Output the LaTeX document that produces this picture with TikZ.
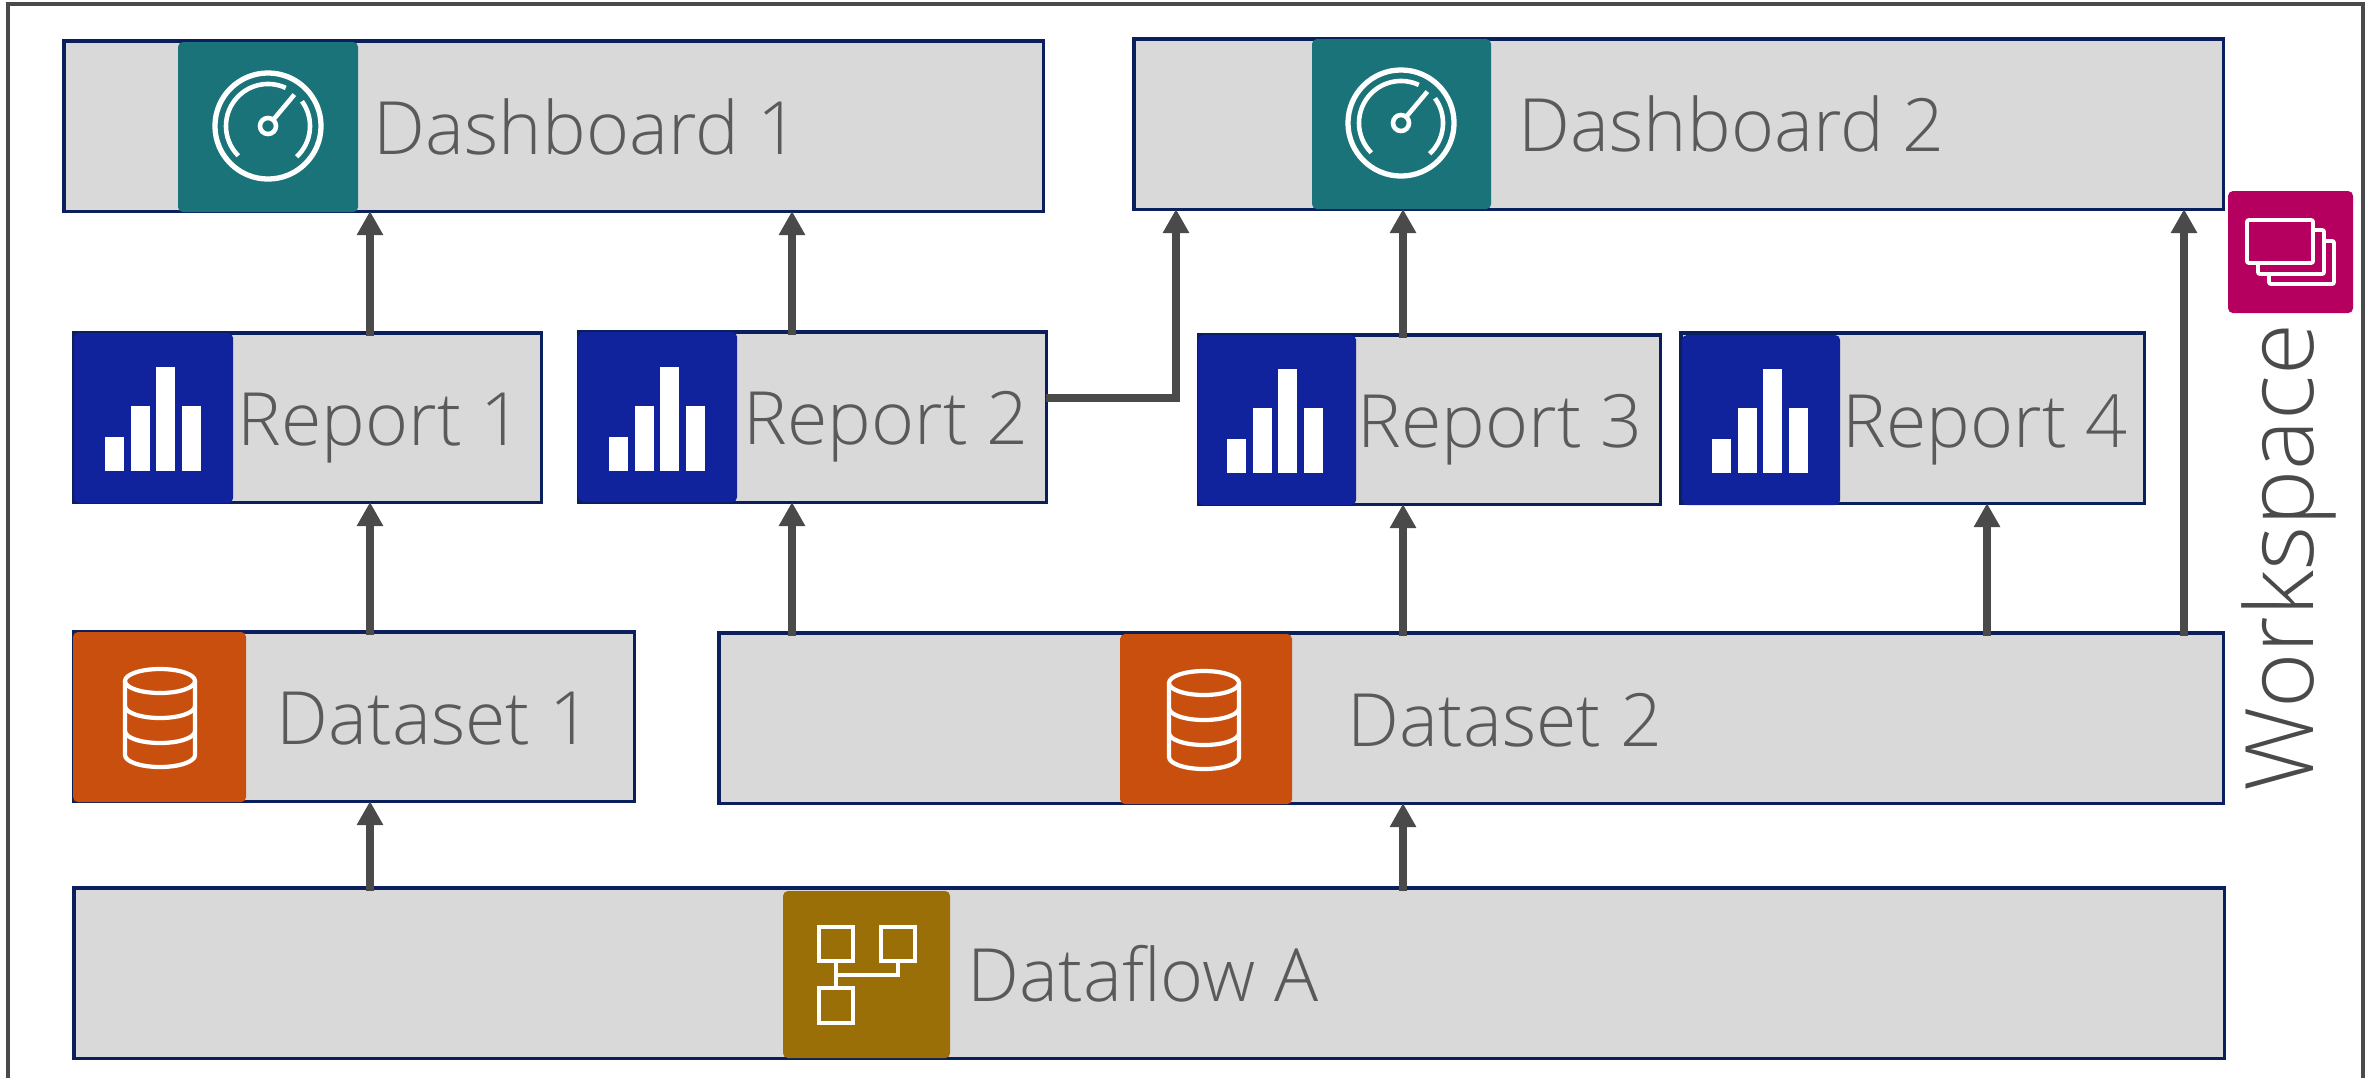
\documentclass[tikz,border=0pt]{standalone}
\usepackage{xcolor}
\usepackage{fontspec}
\setmainfont{Open Sans Light}
\usetikzlibrary{arrows.meta,positioning}

\definecolor{panelfill}{HTML}{D9D9D9}
\definecolor{panelline}{HTML}{0A1F5C}
\definecolor{flowline}{HTML}{4A4A4A}
\definecolor{labeltext}{HTML}{5A5A5A}
\definecolor{dashteal}{HTML}{1A7378}
\definecolor{reportblue}{HTML}{10239C}
\definecolor{dataorange}{HTML}{C94F0F}
\definecolor{flowgold}{HTML}{9A6F08}
\definecolor{workpink}{HTML}{B5005F}

\tikzset{
	panel/.style={draw=panelline,line width=0.9pt,fill=panelfill,anchor=north west,inner sep=0pt,outer sep=0pt,minimum height=1.7cm},
	tile/.style={rounded corners=0.05cm,anchor=north west,inner sep=0pt,outer sep=0pt,minimum height=1.7cm},
	lbl/.style={inner sep=0pt,text=labeltext,font=\fontsize{20.9}{24}\selectfont,text height=0.54cm,text depth=0pt},
	flow/.style={draw=flowline,line width=2.2pt,->,shorten <=-0.03cm},
	>={Triangle[length=0.24cm,width=0.25cm]},
	pics/gaugeicon/.style={code={
		\draw[white,line width=1.5pt] (0,0) circle[radius=0.53cm];
		\draw[white,line width=1.3pt] (225:0.42cm) arc[start angle=225,end angle=65,radius=0.42cm];
		\draw[white,line width=1.3pt] (36:0.42cm) arc[start angle=36,end angle=-47,radius=0.42cm];
		\draw[white,line width=1.3pt] (0,0) circle[radius=0.08cm];
		\draw[white,line width=1.3pt] (50:0.08cm) -- (50:0.41cm);
	}},
	pics/baricon/.style={code={
		\fill[white] (0,-34) rectangle (19,0);
		\fill[white] (26,-65) rectangle (45,0);
		\fill[white] (51,-104) rectangle (70,0);
		\fill[white] (77,-65) rectangle (96,0);
	}},
	pics/cylicon/.style={code={
		\draw[white,line width=1.2pt] (0,0) ellipse[x radius=0.35cm,y radius=0.12cm];
		\draw[white,line width=1.2pt] (-35,0) -- (-35,74) arc[start angle=180,end angle=360,x radius=0.35cm,y radius=0.12cm] -- (35,0);
		\draw[white,line width=1.2pt] (-35,25) arc[start angle=180,end angle=360,x radius=0.35cm,y radius=0.12cm];
		\draw[white,line width=1.2pt] (-35,50) arc[start angle=180,end angle=360,x radius=0.35cm,y radius=0.12cm];
	}},
}

\begin{document}
\begin{tikzpicture}[x=0.01cm,y=-0.01cm]
	\useasboundingbox (0,0) rectangle (2376,1078);
	\draw[flowline,line width=0.9pt] (8,1078) -- (8,4) -- (2363,4) -- (2363,1078);
	
	% panels
	\node[panel,minimum width=9.79cm]  (dash_1) at (64,41)    {};
	\node[panel,minimum width=10.89cm] (dash_2) at (1134,39)  {};
	\node[panel,minimum width=4.67cm,minimum height=1.69cm] (rep_1)  at (74,333)   {};
	\node[panel,minimum width=4.67cm] (rep_2)  at (579,332)  {};
	\node[panel,minimum width=4.61cm,minimum height=1.69cm] (rep_3)  at (1199,335) {};
	\node[panel,minimum width=4.63cm] (rep_4)  at (1681,333) {};
	\node[panel,minimum width=5.60cm,minimum height=1.69cm] (set_1)  at (74,632)   {};
	\node[panel,minimum width=15.04cm] (set_2) at (719,633)  {};
	\node[panel,minimum width=21.49cm] (flow_a) at (74,888)   {};
	
	% tiles
	\node[tile,fill=dashteal,minimum width=1.8cm]    (dash_1_tile) at (178,42)   {};
	\node[tile,fill=dashteal,minimum width=1.79cm]   (dash_2_tile) at (1312,39)  {};
	\node[tile,fill=reportblue,minimum width=1.59cm] (rep_1_tile)  at (74,333)   {};
	\node[tile,fill=reportblue,minimum width=1.59cm] (rep_2_tile)  at (578,332)  {};
	\node[tile,fill=reportblue,minimum width=1.58cm] (rep_3_tile)  at (1198,335) {};
	\node[tile,fill=reportblue,minimum width=1.58cm] (rep_4_tile)  at (1682,335) {};
	\node[tile,fill=dataorange,minimum width=1.73cm] (set_1_tile)  at (73,632)   {};
	\node[tile,fill=dataorange,minimum width=1.72cm] (set_2_tile)  at (1120,634) {};
	\node[tile,fill=flowgold,minimum width=1.67cm,minimum height=1.67cm] (flow_a_tile) at (783,891) {};
	\node[tile,fill=workpink,minimum width=1.25cm,minimum height=1.22cm] (work_tile) at (2228,191) {};
	
	% labels
	\node[lbl,right=0.15cm of dash_1_tile] (dash_1_txt) {Dashboard 1};
	\node[lbl,right=0.27cm of dash_2_tile] (dash_2_txt) {Dashboard 2};
	\node[lbl,right=0.04cm of rep_1_tile]  (rep_1_txt)  {Report 1};
	\node[lbl,right=0.06cm of rep_2_tile]  (rep_2_txt)  {Report 2};
	\node[lbl,right=0.01cm of rep_3_tile]  (rep_3_txt)  {Report 3};
	\node[lbl,right=0.02cm of rep_4_tile]  (rep_4_txt)  {Report 4};
	\node[lbl,right=0.3cm of set_1_tile]   (set_1_txt)  {Dataset 1};
	\node[lbl,right=0.55cm of set_2_tile]  (set_2_txt)  {Dataset 2};
	\node[lbl,right=0.17cm of flow_a_tile] (flow_a_txt) {Dataflow A};
	\node[inner sep=0pt,text=flowline,font=\fontsize{26.9}{30}\selectfont,rotate=90,anchor=base west] (work_txt) at (2313,792) {Workspace};
	
	% icons
	\pic at (268,126)  {gaugeicon};
	\pic at (1401,123) {gaugeicon};
	\pic at (105,471)  {baricon};
	\pic at (609,471)  {baricon};
	\pic at (1227,473) {baricon};
	\pic at (1712,473) {baricon};
	\pic at (160,681)  {cylicon};
	\pic at (1204,683) {cylicon};
	
	\draw[white,line width=1.1pt,rounded corners=0.02cm,fill=workpink] (2269,241) rectangle (2334,284);
	\draw[white,line width=1.1pt,rounded corners=0.02cm,fill=workpink] (2258,230) rectangle (2324,274);
	\draw[white,line width=1.1pt,rounded corners=0.02cm,fill=workpink] (2247,220) rectangle (2313,263);
	
	\draw[white,line width=1.4pt] (819,927) rectangle (853,961);
	\draw[white,line width=1.4pt] (881,927) rectangle (915,961);
	\draw[white,line width=1.4pt] (819,988) rectangle (853,1023);
	\draw[white,line width=1.4pt] (836,961) -- (836,988) (836,975) -- (898,975) -- (898,961);
	
	% connectors
	\coordinate (col_a) at (370,0);
	\coordinate (col_b) at (792,0);
	\coordinate (col_c) at (1176,0);
	\coordinate (col_d) at (1403,0);
	\coordinate (col_e) at (1987,0);
	\coordinate (col_f) at (2184,0);
	\coordinate (row_e) at (0,398);
	
	\path[every edge/.style={flow}]
	(col_a |- rep_1.north) edge (col_a |- dash_1.south)
	(col_b |- rep_2.north) edge (col_b |- dash_1.south)
	(col_d |- rep_3.north) edge (col_d |- dash_2.south)
	(col_a |- set_1.north) edge (col_a |- rep_1.south)
	(col_b |- set_2.north) edge (col_b |- rep_2.south)
	(col_d |- set_2.north) edge (col_d |- rep_3.south)
	(col_e |- set_2.north) edge (col_e |- rep_4.south)
	(col_f |- set_2.north) edge (col_f |- dash_2.south)
	(col_a |- flow_a.north) edge (col_a |- set_1.south)
	(col_d |- flow_a.north) edge (col_d |- set_2.south);
	
	\draw[flow,shorten <=0pt] (rep_2.east |- row_e) -| (col_c |- dash_2.south);
	
\end{tikzpicture}
\end{document}
